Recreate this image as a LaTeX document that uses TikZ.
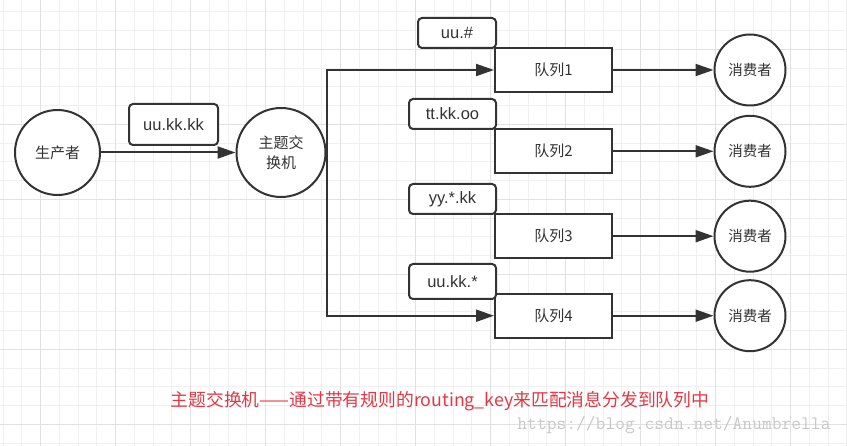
\documentclass[tikz,border=0pt]{standalone}
\usepackage{fontspec}
\setmainfont{Liberation Sans}
\newfontfamily\cjk{Noto Sans CJK SC}
\usetikzlibrary{arrows.meta}
\definecolor{ink}{RGB}{51,51,51}
\definecolor{gridminor}{RGB}{240,240,240}
\definecolor{gridmajor}{RGB}{225,225,225}
\definecolor{capred}{RGB}{226,56,70}
\definecolor{wmgray}{RGB}{200,200,200}
\tikzset{
  x=1pt, y=-1pt,
  roundnode/.style={circle, draw=ink, line width=2pt, fill=white, inner sep=0pt, text=ink,
    font=\cjk\fontsize{15}{20}\selectfont, align=center},
  queuebox/.style={rectangle, draw=ink, line width=2pt, fill=white, minimum width=117pt,
    minimum height=44pt, inner sep=0pt, text=ink, font=\cjk\fontsize{15}{18}\selectfont},
  keybox/.style={rectangle, rounded corners=4pt, draw=ink, line width=2pt, fill=white,
    inner sep=0pt, text=ink, font=\fontsize{16.5}{19}\selectfont},
  arr/.style={draw=ink, line width=2pt, -{Triangle[length=18pt,width=12pt]}},
}
\begin{document}
\begin{tikzpicture}
\useasboundingbox (0,0) rectangle (847,446);
\fill[white] (0,0) rectangle (847,446);
% grid
\foreach \i in {0,...,45} \draw[gridminor, line width=1pt] ({3.0+18.75*\i},0) -- ++(0,446);
\foreach \i in {0,...,23} \draw[gridminor, line width=1pt] (0,{12.0+18.75*\i}) -- ++(847,0);
\foreach \i in {0,...,11} \draw[gridmajor, line width=1pt] ({40.7+75*\i},0) -- ++(0,446);
\foreach \i in {0,...,5} \draw[gridmajor, line width=1pt] (0,{49.3+75*\i}) -- ++(847,0);

% nodes
\node[roundnode, minimum size=85pt] (prod) at (57.5,152.5) {生产者};
\node[roundnode, minimum size=89pt] (ex) at (281,152.5) {主题交\\换机};

\node[queuebox] (q1) at (553.5,70) {队列1};
\node[queuebox] (q2) at (553.5,151.3) {队列2};
\node[queuebox] (q3) at (553.5,236.2) {队列3};
\node[queuebox] (q4) at (553.5,315.7) {队列4};

\node[roundnode, minimum size=71pt, font=\cjk\fontsize{14.5}{18}\selectfont] (c1) at (750,70) {消费者};
\node[roundnode, minimum size=71pt, font=\cjk\fontsize{14.5}{18}\selectfont] (c2) at (750,151.3) {消费者};
\node[roundnode, minimum size=71pt, font=\cjk\fontsize{14.5}{18}\selectfont] (c3) at (750,236.2) {消费者};
\node[roundnode, minimum size=71pt, font=\cjk\fontsize{14.5}{18}\selectfont] (c4) at (750,315.7) {消费者};

% key labels
\node[keybox, minimum width=89pt, minimum height=41pt] (k0) at (173.5,124.5) {uu.kk.kk};
\node[keybox, minimum width=78pt, minimum height=30pt] (k1) at (457,33) {uu.\#};
\node[keybox, minimum width=87pt, minimum height=30pt] (k2) at (452.5,114) {tt.kk.oo};
\node[keybox, minimum width=87pt, minimum height=30pt] (k3) at (452.5,199) {yy.*.kk};
\node[keybox, minimum width=87pt, minimum height=35pt] (k4) at (452.5,281.5) {uu.kk.*};

% connectors
\draw[arr] (prod) -- (ex);
\draw[arr] (ex.east) |- (q1.west);
\draw[arr] (ex.east) |- (q4.west);
\draw[arr] (q1) -- (c1);
\draw[arr] (q2) -- (c2);
\draw[arr] (q3) -- (c3);
\draw[arr] (q4) -- (c4);

% caption and watermark
\node[text=capred, font=\cjk\fontsize{17.8}{20}\selectfont, inner sep=0pt] (cap) at (440,401)
  {主题交换机——通过带有规则的routing\_key来匹配消息分发到队列中};
\node[text=wmgray, font=\ttfamily\fontsize{19}{22}\selectfont, inner sep=0pt] (wm) at (674,425)
  {https://blog.csdn.net/Anumbrella};
\end{tikzpicture}
\end{document}
